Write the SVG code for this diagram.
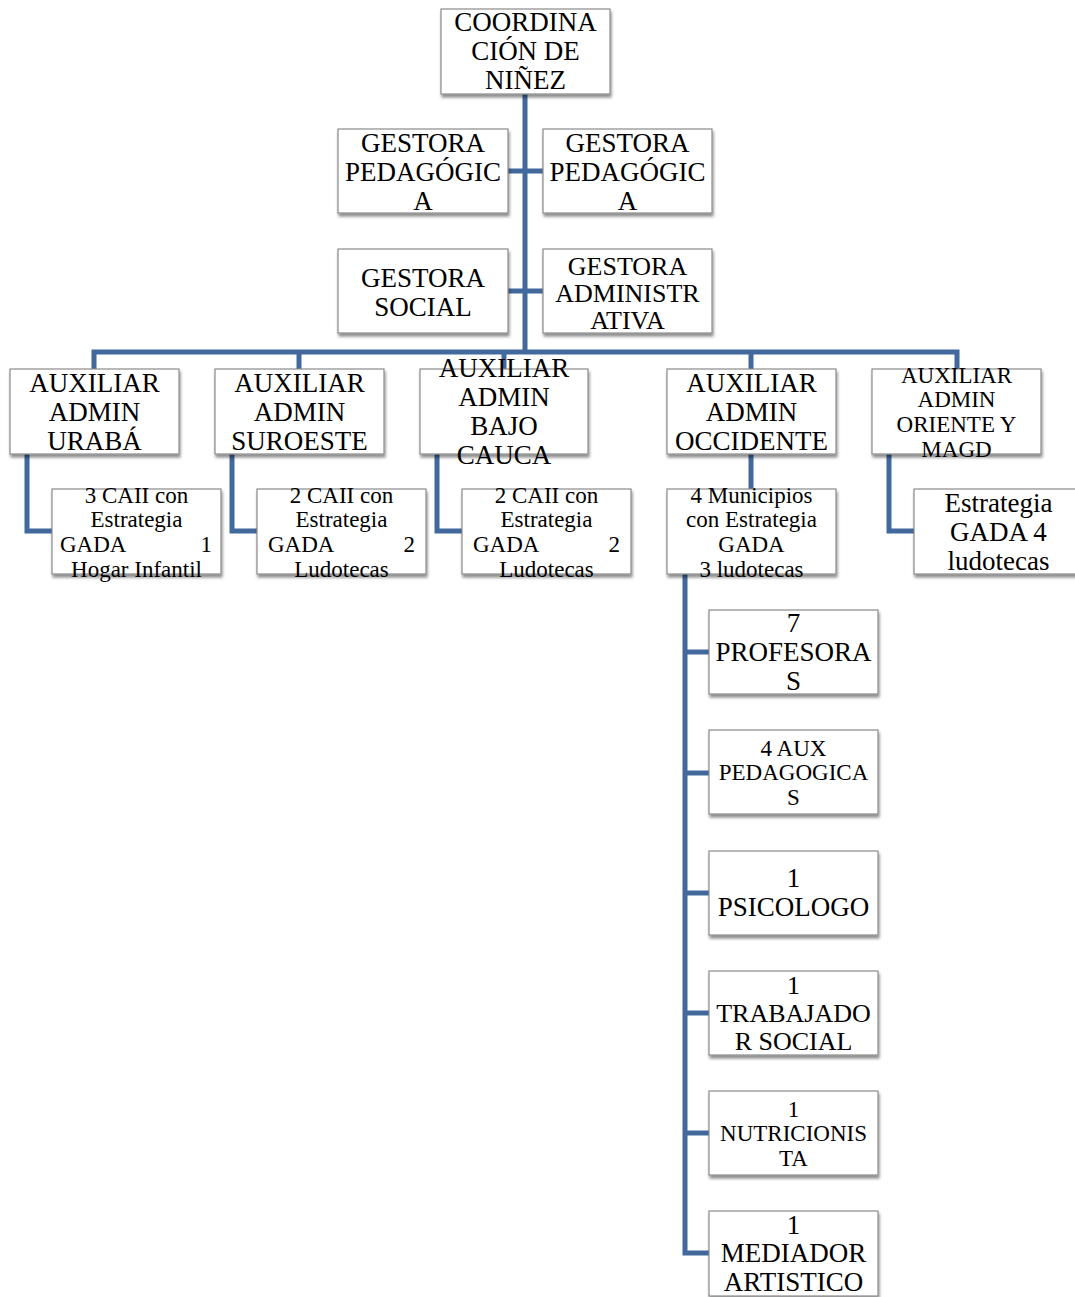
<svg xmlns="http://www.w3.org/2000/svg" width="1075" height="1297" viewBox="0 0 1075 1297">
<defs>
<filter id="sh" x="-10%" y="-10%" width="125%" height="130%">
<feGaussianBlur in="SourceAlpha" stdDeviation="1.5"/>
<feOffset dx="1" dy="2.5" result="b"/>
<feComponentTransfer><feFuncA type="linear" slope="0.45"/></feComponentTransfer>
<feMerge><feMergeNode/><feMergeNode in="SourceGraphic"/></feMerge>
</filter>
</defs>
<style>
rect.box{fill:#fff;stroke:#8a8a8a;stroke-width:1.2;filter:url(#sh)}
text{font-family:"Liberation Serif","Times New Roman",serif;fill:#000;text-anchor:middle}
.l{font-size:27px}
.m{font-size:23px}
.c{fill:none;stroke:#41699e;stroke-width:5;stroke-linejoin:miter}
</style>
<rect width="1075" height="1297" fill="#fff"/>
<g id="connectors">
<path class="c" d="M525 94V352"/>
<path class="c" d="M508 171H543"/>
<path class="c" d="M508 291H543"/>
<path class="c" d="M94 369V352H957V369"/>
<path class="c" d="M299 352V369"/>
<path class="c" d="M504 352V369"/>
<path class="c" d="M751 352V369"/>
<path class="c" d="M27 454V531H52"/>
<path class="c" d="M232 454V531H257"/>
<path class="c" d="M437 454V531H462"/>
<path class="c" d="M751 454V489"/>
<path class="c" d="M889 454V531H914"/>
<path class="c" d="M685 574V1253H709"/>
<path class="c" d="M685 652H709"/>
<path class="c" d="M685 773H709"/>
<path class="c" d="M685 893H709"/>
<path class="c" d="M685 1013H709"/>
<path class="c" d="M685 1133H709"/>
</g>
<g id="coordinacion">
<rect class="box" x="441" y="9" width="169" height="85"/>
<text class="l" x="525.5" y="31">COORDINA</text>
<text class="l" x="525.5" y="60">CIÓN DE</text>
<text class="l" x="525.5" y="89">NIÑEZ</text>
</g>
<g id="gestora-ped-1">
<rect class="box" x="338" y="129" width="170" height="84"/>
<text class="l" x="423" y="152">GESTORA</text>
<text class="l" x="423" y="181">PEDAGÓGIC</text>
<text class="l" x="423" y="210">A</text>
</g>
<g id="gestora-ped-2">
<rect class="box" x="543" y="129" width="169" height="84"/>
<text class="l" x="627.5" y="152">GESTORA</text>
<text class="l" x="627.5" y="181">PEDAGÓGIC</text>
<text class="l" x="627.5" y="210">A</text>
</g>
<g id="gestora-social">
<rect class="box" x="338" y="249" width="170" height="84"/>
<text class="l" x="423" y="287">GESTORA</text>
<text class="l" x="423" y="316">SOCIAL</text>
</g>
<g id="gestora-admin">
<rect class="box" x="543" y="249" width="169" height="84"/>
<text class="l" x="627.5" y="275" style="font-size:26px">GESTORA</text>
<text class="l" x="627.5" y="302" style="font-size:26px">ADMINISTR</text>
<text class="l" x="627.5" y="329" style="font-size:26px">ATIVA</text>
</g>
<g id="aux-uraba">
<rect class="box" x="10" y="369" width="169" height="85"/>
<text class="l" x="94.5" y="392">AUXILIAR</text>
<text class="l" x="94.5" y="421">ADMIN</text>
<text class="l" x="94.5" y="450">URABÁ</text>
</g>
<g id="aux-suroeste">
<rect class="box" x="215" y="369" width="169" height="85"/>
<text class="l" x="299.5" y="392">AUXILIAR</text>
<text class="l" x="299.5" y="421">ADMIN</text>
<text class="l" x="299.5" y="450">SUROESTE</text>
</g>
<g id="aux-bajo-cauca">
<rect class="box" x="420" y="369" width="168" height="85"/>
<text class="l" x="504" y="377">AUXILIAR</text>
<text class="l" x="504" y="406">ADMIN</text>
<text class="l" x="504" y="435">BAJO</text>
<text class="l" x="504" y="464">CAUCA</text>
</g>
<g id="aux-occidente">
<rect class="box" x="667" y="369" width="169" height="85"/>
<text class="l" x="751.5" y="392">AUXILIAR</text>
<text class="l" x="751.5" y="421">ADMIN</text>
<text class="l" x="751.5" y="450">OCCIDENTE</text>
</g>
<g id="aux-oriente">
<rect class="box" x="872" y="369" width="169" height="85"/>
<text class="m" x="956.5" y="383">AUXILIAR</text>
<text class="m" x="956.5" y="407">ADMIN</text>
<text class="m" x="956.5" y="432">ORIENTE Y</text>
<text class="m" x="956.5" y="457">MAGD</text>
</g>
<g id="sub-uraba">
<rect class="box" x="52" y="489" width="169" height="85"/>
<text class="m" x="136.5" y="503">3 CAII con</text>
<text class="m" x="136.5" y="527">Estrategia</text>
<text class="m" x="60" y="552" style="text-anchor:start">GADA</text>
<text class="m" x="212" y="552" style="text-anchor:end">1</text>
<text class="m" x="136.5" y="577">Hogar Infantil</text>
</g>
<g id="sub-suroeste">
<rect class="box" x="257" y="489" width="169" height="85"/>
<text class="m" x="341.5" y="503">2 CAII con</text>
<text class="m" x="341.5" y="527">Estrategia</text>
<text class="m" x="268" y="552" style="text-anchor:start">GADA</text>
<text class="m" x="415" y="552" style="text-anchor:end">2</text>
<text class="m" x="341.5" y="577">Ludotecas</text>
</g>
<g id="sub-bajo-cauca">
<rect class="box" x="462" y="489" width="169" height="85"/>
<text class="m" x="546.5" y="503">2 CAII con</text>
<text class="m" x="546.5" y="527">Estrategia</text>
<text class="m" x="473" y="552" style="text-anchor:start">GADA</text>
<text class="m" x="620" y="552" style="text-anchor:end">2</text>
<text class="m" x="546.5" y="577">Ludotecas</text>
</g>
<g id="sub-occidente">
<rect class="box" x="667" y="489" width="169" height="85"/>
<text class="m" x="751.5" y="503">4 Municipios</text>
<text class="m" x="751.5" y="527">con Estrategia</text>
<text class="m" x="751.5" y="552">GADA</text>
<text class="m" x="751.5" y="577">3 ludotecas</text>
</g>
<g id="sub-oriente">
<rect class="box" x="914" y="489" width="169" height="85"/>
<text class="l" x="998.5" y="512">Estrategia</text>
<text class="l" x="998.5" y="541">GADA 4</text>
<text class="l" x="998.5" y="570">ludotecas</text>
</g>
<g id="profesoras">
<rect class="box" x="709" y="610" width="169" height="84"/>
<text class="l" x="793.5" y="632">7</text>
<text class="l" x="793.5" y="661">PROFESORA</text>
<text class="l" x="793.5" y="690">S</text>
</g>
<g id="aux-pedagogicas">
<rect class="box" x="709" y="730" width="169" height="84"/>
<text class="m" x="793.5" y="756">4 AUX</text>
<text class="m" x="793.5" y="780">PEDAGOGICA</text>
<text class="m" x="793.5" y="805">S</text>
</g>
<g id="psicologo">
<rect class="box" x="709" y="851" width="169" height="84"/>
<text class="l" x="793.5" y="887">1</text>
<text class="l" x="793.5" y="916">PSICOLOGO</text>
</g>
<g id="trabajador-social">
<rect class="box" x="709" y="971" width="169" height="84"/>
<text class="l" x="793.5" y="994" style="font-size:26px">1</text>
<text class="l" x="793.5" y="1022" style="font-size:26px">TRABAJADO</text>
<text class="l" x="793.5" y="1050" style="font-size:26px">R SOCIAL</text>
</g>
<g id="nutricionista">
<rect class="box" x="709" y="1091" width="169" height="84"/>
<text class="m" x="793.5" y="1117">1</text>
<text class="m" x="793.5" y="1141">NUTRICIONIS</text>
<text class="m" x="793.5" y="1166">TA</text>
</g>
<g id="mediador">
<rect class="box" x="709" y="1211" width="169" height="85"/>
<text class="l" x="793.5" y="1234">1</text>
<text class="l" x="793.5" y="1262">MEDIADOR</text>
<text class="l" x="793.5" y="1291">ARTISTICO</text>
</g>
</svg>
